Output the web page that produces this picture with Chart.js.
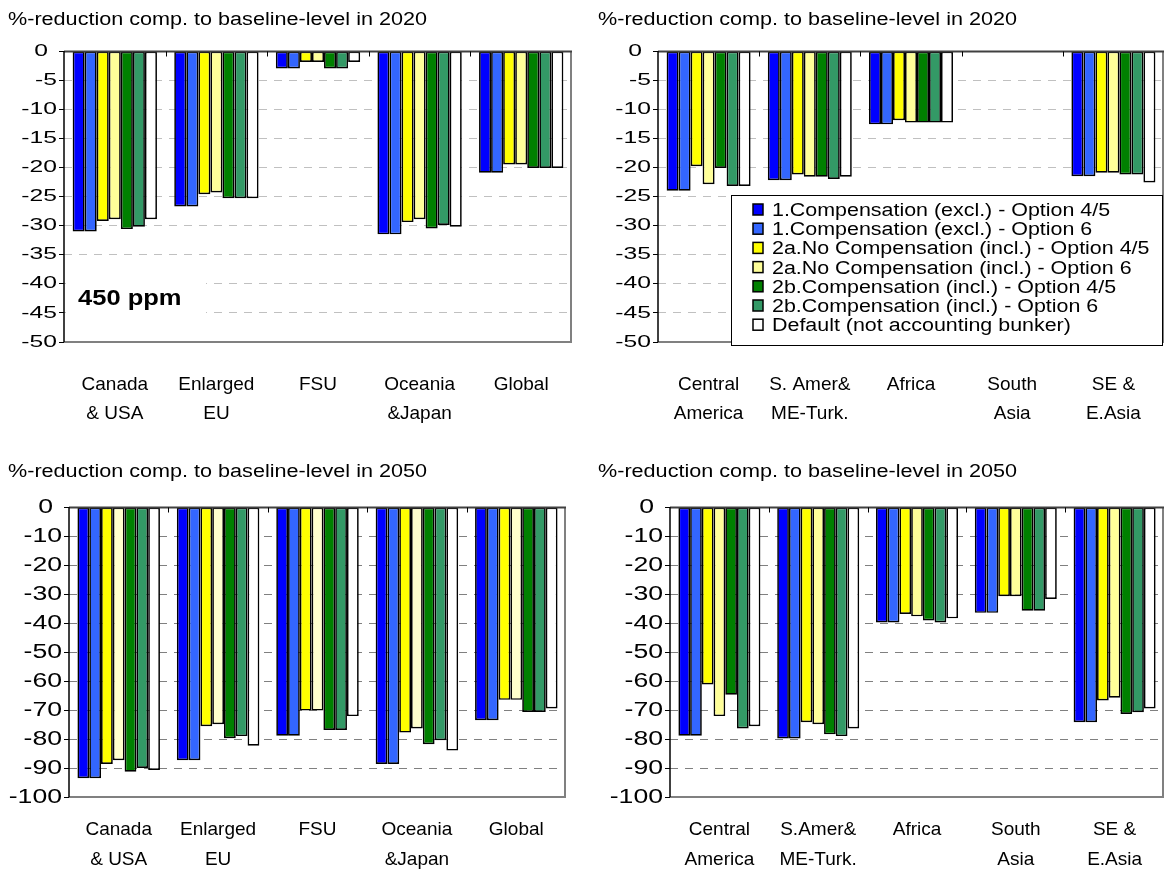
<!DOCTYPE html>
<html>
<head>
<meta charset="utf-8">
<script src="https://cdn.jsdelivr.net/npm/chart.js@4.4.0/dist/chart.umd.min.js"></script>
<style>
body { margin: 0; background: #fff; width: 1164px; height: 872px; position: relative; overflow: hidden; }
canvas { position: absolute; }
</style>
</head>
<body>
<canvas id="tl" width="582" height="436" style="left:0;top:0"></canvas>
<canvas id="tr" width="582" height="436" style="left:582px;top:0"></canvas>
<canvas id="bl" width="582" height="436" style="left:0;top:436px"></canvas>
<canvas id="br" width="582" height="436" style="left:582px;top:436px"></canvas>
<script>
// series names + colours
const seriesNames = [
    "1.Compensation (excl.) - Option 4/5",
    "1.Compensation (excl.) - Option 6",
    "2a.No Compensation (incl.) - Option 4/5",
    "2a.No Compensation (incl.) - Option 6",
    "2b.Compensation (incl.) - Option 4/5",
    "2b.Compensation (incl.) - Option 6",
    "Default (not accounting bunker)",
];
const seriesColors = ["#0000FF", "#3366FF", "#FFFF00", "#FFFF99", "#008000", "#339966", "#FFFFFF"];

// categories
const regionsNorth = [["Canada", "& USA"], ["Enlarged", "EU"], ["FSU"], ["Oceania", "&Japan"], ["Global"]];
const regionsSouth2020 = [["Central", "America"], ["S. Amer&", "ME-Turk."], ["Africa"], ["South", "Asia"], ["SE &", "E.Asia"]];
const regionsSouth2050 = [["Central", "America"], ["S.Amer&", "ME-Turk."], ["Africa"], ["South", "Asia"], ["SE &", "E.Asia"]];

// values, one row per series (same order as seriesNames)
const north2020 = [
    [-31.0, -26.7, -3.0, -31.5, -20.9],
    [-31.0, -26.7, -3.0, -31.5, -20.9],
    [-29.2, -24.6, -1.9, -29.4, -19.5],
    [-28.9, -24.3, -1.9, -28.9, -19.5],
    [-30.6, -25.3, -3.0, -30.5, -20.1],
    [-30.2, -25.3, -3.0, -29.9, -20.1],
    [-28.9, -25.3, -1.9, -30.2, -20.1],
];
const south2020 = [
    [-24.0, -22.2, -12.6, null, -21.5],
    [-24.0, -22.2, -12.6, null, -21.5],
    [-19.8, -21.2, -11.9, null, -20.9],
    [-22.9, -21.6, -12.3, null, -20.9],
    [-20.1, -21.6, -12.3, null, -21.2],
    [-23.2, -22.0, -12.3, null, -21.2],
    [-23.2, -21.6, -12.3, null, -22.6],
];
const north2050 = [
    [-93.5, -87.3, -78.9, -88.6, -73.5],
    [-93.5, -87.3, -78.9, -88.6, -73.5],
    [-88.6, -75.6, -70.2, -77.8, -66.5],
    [-87.3, -74.9, -70.2, -76.4, -66.5],
    [-91.3, -79.7, -76.9, -81.8, -70.7],
    [-90.0, -79.0, -76.9, -80.4, -70.7],
    [-90.7, -82.3, -72.1, -84.0, -69.5],
];
const south2050 = [
    [-78.9, -79.8, -39.8, -36.5, -74.2],
    [-78.9, -79.8, -39.8, -36.5, -74.2],
    [-61.2, -74.2, -36.9, -30.8, -66.7],
    [-72.1, -74.9, -37.7, -30.8, -65.8],
    [-64.7, -78.4, -39.1, -35.8, -71.4],
    [-76.4, -79.0, -39.8, -35.8, -70.8],
    [-75.6, -76.4, -38.4, -31.7, -69.5],
];

const FONT = "'Liberation Sans', Arial, sans-serif";

function stretchText(ctx, txt, x, y, sx, align) {
    ctx.save();
    ctx.translate(x, y);
    ctx.scale(sx, 1);
    ctx.textAlign = align || "left";
    ctx.fillText(txt, 0, 0);
    ctx.restore();
}

// draws the excel-ish frame, y labels, title, legend box etc
const panelPlugin = {
    id: "panel",
    afterDraw(chart, args, o) {
        const { ctx, chartArea: a, scales } = chart;
        const x = scales.x, y = scales.y;
        ctx.save();
        ctx.lineCap = "butt";

        // gray frame right + bottom
        ctx.strokeStyle = "#808080";
        ctx.lineWidth = 2;
        ctx.beginPath();
        ctx.moveTo(a.left, a.bottom);
        ctx.lineTo(a.right - 1, a.bottom);
        ctx.lineTo(a.right - 1, a.top);
        ctx.stroke();

        // zero line (category axis) + boundary ticks
        const y0 = Math.round(y.getPixelForValue(0)) + 0.5;
        ctx.strokeStyle = "#404040";
        ctx.lineWidth = 2;
        ctx.beginPath();
        ctx.moveTo(a.left, y0);
        ctx.lineTo(a.right, y0);
        ctx.stroke();
        const n = x.ticks.length;
        const w = (a.right - a.left) / n;
        ctx.strokeStyle = "#000";
        ctx.lineWidth = 1;
        ctx.beginPath();
        for (let i = 1; i < n; i++) {
            const px = Math.round(a.left + i * w) + 0.5;
            ctx.moveTo(px, y0);
            ctx.lineTo(px, y0 + 5);
        }
        ctx.stroke();

        // value axis
        ctx.strokeStyle = "#000";
        ctx.lineWidth = 1.5;
        ctx.beginPath();
        ctx.moveTo(a.left, a.top);
        ctx.lineTo(a.left, a.bottom);
        ctx.stroke();

        // y labels (wide, like the original)
        ctx.fillStyle = "#000";
        ctx.font = o.ySize + "px " + FONT;
        ctx.textBaseline = "middle";
        y.ticks.forEach((t) => {
            const py = y.getPixelForValue(t.value);
            const gap = t.value === 0 ? 16 : 7;
            stretchText(ctx, String(t.value), a.left - gap, py, o.yStretch, "right");
        });

        // title
        ctx.font = "18px " + FONT;
        stretchText(ctx, o.title, o.titleX, o.titleY, 1.2, "left");

        if (o.ppm) {
            ctx.fillStyle = "#fff";
            ctx.fillRect(a.left + 2, 275, 140, 46);
            ctx.fillStyle = "#000";
            ctx.font = "bold 22px " + FONT;
            stretchText(ctx, "450 ppm", 78, 299, 1.16, "left");
        }

        if (o.legend) {
            const L = o.legend;
            ctx.fillStyle = "#fff";
            ctx.fillRect(L.x, L.y, L.w, L.h);
            ctx.strokeStyle = "#000";
            ctx.lineWidth = 1;
            ctx.strokeRect(L.x + 0.5, L.y + 0.5, L.w, L.h);
            ctx.font = "18px " + FONT;
            chart.data.datasets.forEach((ds, i) => {
                const cy = L.y + 15 + i * 19.2;
                ctx.fillStyle = ds.backgroundColor;
                ctx.fillRect(L.x + 22, cy - 6, 10, 11);
                ctx.strokeStyle = "#000";
                ctx.lineWidth = 1.5;
                ctx.strokeRect(L.x + 22, cy - 6, 10, 11);
                ctx.fillStyle = "#000";
                stretchText(ctx, ds.label, L.x + 41, cy + 1, 1.19, "left");
            });
        }
        ctx.restore();
    },
};

function makePanel(id, labels, values, opt) {
    const datasets = values.map((row, i) => ({
        label: seriesNames[i],
        data: row,
        backgroundColor: opt.colors ? opt.colors[i] : seriesColors[i],
        borderColor: "#000",
        borderWidth: 1.7,
        borderSkipped: false,
        categoryPercentage: 0.83,
        barPercentage: 1.0,
    }));
    return new Chart(document.getElementById(id), {
        type: "bar",
        data: { labels: labels, datasets: datasets },
        options: {
            responsive: false,
            animation: false,
            layout: { autoPadding: false, padding: { left: 0, right: opt.padRight, top: opt.padTop, bottom: 0 } },
            plugins: {
                legend: { display: false },
                tooltip: { enabled: false },
                panel: opt.panel,
            },
            scales: {
                x: {
                    grid: { display: false },
                    border: { display: false },
                    ticks: {
                        color: "#000",
                        padding: opt.xPad,
                        maxRotation: 0,
                        autoSkip: false,
                        font: { family: FONT, size: 19, lineHeight: opt.xLine },
                    },
                    afterFit: (s) => { s.height = opt.xHeight; },
                },
                y: {
                    min: opt.min,
                    max: 0,
                    ticks: { stepSize: opt.step, display: false },
                    grid: { color: opt.gridColor, lineWidth: 1, drawTicks: true, tickLength: 5, tickColor: "#000", tickWidth: 1 },
                    border: { display: false, dash: [8, 7] },
                    afterFit: (s) => { s.width = opt.yWidth; },
                },
            },
        },
        plugins: [panelPlugin],
    });
}

makePanel("tl", regionsNorth, north2020, {
    padRight: 10, padTop: 51, xHeight: 94, xPad: 20, xLine: 29 / 19, yWidth: 64,
    min: -50, step: 5, gridColor: "#c0c0c0",
    panel: { title: "%-reduction comp. to baseline-level in 2020", titleX: 8, titleY: 20, ySize: 17, yStretch: 1.45, ppm: true },
});
makePanel("tr", regionsSouth2020, south2020, {
    padRight: 0, padTop: 51, xHeight: 94, xPad: 20, xLine: 29 / 19, yWidth: 76,
    min: -50, step: 5, gridColor: "#c0c0c0",
    panel: { title: "%-reduction comp. to baseline-level in 2020", titleX: 16, titleY: 20, ySize: 17, yStretch: 1.45,
        legend: { x: 149, y: 195, w: 431, h: 150 } },
});
makePanel("bl", regionsNorth, north2050, {
    padRight: 16, padTop: 71, xHeight: 75, xPad: 10, xLine: 30 / 19, yWidth: 69,
    min: -100, step: 10, gridColor: "#808080",
    colors: ["#0000FF", "#3366FF", "#FFFF00", "#FFFFCC", "#008000", "#339966", "#FFFFFF"],
    panel: { title: "%-reduction comp. to baseline-level in 2050", titleX: 8, titleY: 36, ySize: 20, yStretch: 1.33 },
});
makePanel("br", regionsSouth2050, south2050, {
    padRight: 0, padTop: 71, xHeight: 75, xPad: 10, xLine: 30 / 19, yWidth: 88,
    min: -100, step: 10, gridColor: "#808080",
    panel: { title: "%-reduction comp. to baseline-level in 2050", titleX: 16, titleY: 36, ySize: 20, yStretch: 1.33 },
});
</script>
</body>
</html>
